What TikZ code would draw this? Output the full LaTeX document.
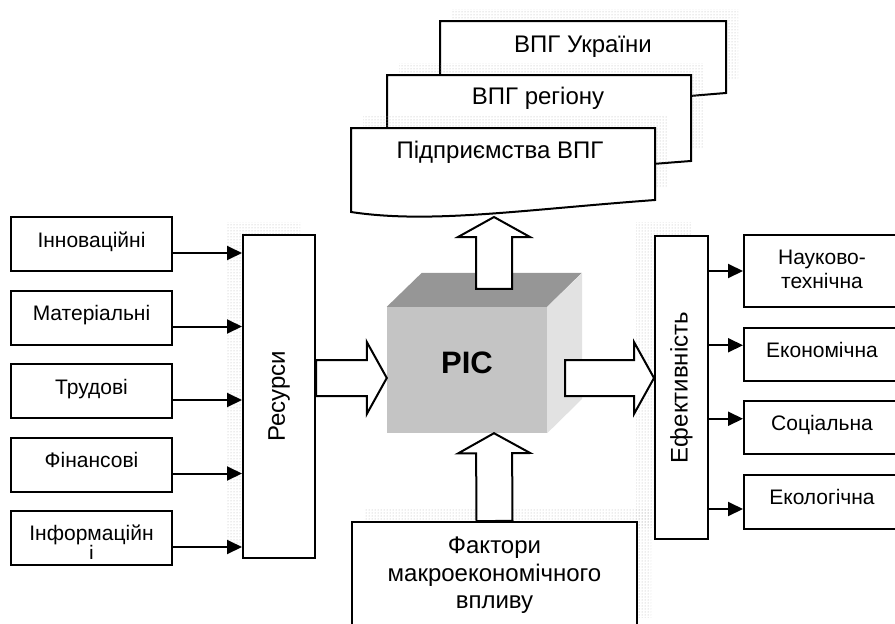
\documentclass[tikz,border=0pt]{standalone}
\usepackage{fontspec}
\setmainfont{Liberation Sans}
\usetikzlibrary{positioning,calc,arrows.meta,patterns,backgrounds}

\definecolor{cubefront}{HTML}{C4C4C4}
\definecolor{cubetop}{HTML}{969696}
\definecolor{cubeside}{HTML}{E2E2E2}

% hollow block arrow from #1 (tail) to #2 (tip)
\newcommand{\blockarrow}[2]{%
  \coordinate (ba) at ($(#2)!20pt!(#1)$);
  \draw[bigarrow] ($(#1)!18pt!90:(#2)$) -- ($(ba)!18pt!-90:(#1)$) -- ($(ba)!36pt!-90:(#1)$)
    -- (#2) -- ($(ba)!36pt!90:(#1)$) -- ($(ba)!18pt!90:(#1)$) -- ($(#1)!18pt!-90:(#2)$) -- cycle;
}

\begin{document}
\begin{tikzpicture}
[
    x=1pt, y=-1pt,
    box/.style={draw, line width=2pt, fill=white, align=center, inner sep=2pt,
        font=\fontsize{21}{24}\selectfont},
    leftbox/.style={box, minimum width=161pt, minimum height=54pt, text depth=9pt},
    rightbox/.style={box, minimum width=156pt, text depth=9pt},
    bigtext/.style={font=\fontsize{24}{27.5}\selectfont, align=center},
    dotshadow/.style={pattern=dots, pattern color=gray!60},
    thinarrow/.style={line width=2pt, -{Triangle[length=15pt, width=14pt]}},
    bigarrow/.style={draw, line width=2pt, fill=white, line join=miter},
]
\useasboundingbox (0,0) rectangle (895,624);
\clip (0,0) rectangle (895,624);

% stacked documents
\foreach \xa/\xb/\yt/\yb in {440/726/21/93, 387/691/75/161, 351/655/128/200} {
    \fill[dotshadow] (\xa+12,\yt-12) rectangle (\xb+12,\yb-14);
    \draw[line width=2pt, fill=white] (\xa,\yt) -- (\xb,\yt) -- (\xb,\yb)
        .. controls ({\xa+0.555*(\xb-\xa)},\yb+10) and ({\xa+0.26*(\xb-\xa)},\yb+24) .. (\xa,\yb+12) -- cycle;
}
\node[bigtext] (ukr) at (583,47) {ВПГ України};
\node[bigtext] (reg) at (538,98) {ВПГ регіону};
\node[bigtext] (ent) at (500,152) {Підприємства ВПГ};

% left column
\node[leftbox] (inn) at (91.5,244) {Інноваційні};
\node[leftbox, below=17.5pt of inn] (mat) {Матеріальні};
\node[leftbox, below=17.5pt of mat] (tru) {Трудові};
\node[leftbox, below=17.5pt of tru] (fin) {Фінансові};
\node[leftbox, below=17.5pt of fin] (inf) {};
\node[font=\fontsize{21}{24}\selectfont, anchor=base, inner sep=0] (inftext) at ($(inf.center)+(0,2)$) {Інформаційн};
\begin{scope}
    \clip (inf.north west) rectangle ($(inf.north east)+(0,48)$);
    \node[font=\fontsize{21}{24}\selectfont, anchor=base, inner sep=0] (infi) at (91.5,560) {і};
\end{scope}

\node[box, font=\fontsize{24}{28}\selectfont, minimum width=72pt, minimum height=323pt]
    (res) at (279,396.5) {\rotatebox{90}{Ресурси}};

% right column
\node[box, font=\fontsize{24}{28}\selectfont, minimum width=53pt, minimum height=303pt]
    (eff) at (681.5,387.5) {\rotatebox{90}{Ефективність}};
\node[rightbox, minimum height=72pt, text depth=3pt] (nt) at (822,271) {Науково-\\технічна};
\node[rightbox, minimum height=53pt, below=18.5pt of nt] (eco) {Економічна};
\node[rightbox, minimum height=53pt, below=18.5pt of eco] (soc) {Соціальна};
\node[rightbox, minimum height=54pt, below=18.5pt of soc] (ekol) {Екологічна};

\node[box, bigtext, minimum width=285pt, minimum height=107pt]
    (fact) at (494.5,575.5) {Фактори\\макроекономічного\\впливу};

% shadows
\begin{scope}[on background layer]
    \fill[dotshadow] ($(res.north west)+(-16,-12)$) rectangle ($(res.south east)+(-16,-12)$);
    \fill[dotshadow] ($(eff.north west)+(-18,-13)$) rectangle ($(eff.south east)+(-18,-13)$);
    \fill[dotshadow] ($(fact.north west)+(13,-13)$) rectangle ($(fact.south east)+(13,-13)$);
\end{scope}

% cube
\node[fill=cubefront, minimum width=160pt, minimum height=126pt, inner sep=0] (cube) at (467,370) {};
\fill[cubetop] (cube.north west) -- ++(35,-34) -- ++(160,0) -- (cube.north east) -- cycle;
\fill[cubeside] (cube.north east) -- ++(35,-34) -- ++(0,126) -- (cube.south east) -- cycle;
\node[font=\fontsize{31}{31}\bfseries\selectfont] (pic) at ([yshift=7pt]cube.center) {PIC};

% arrows
\foreach \n in {inn,mat,tru,fin,inf}
    \draw[thinarrow] ($(\n.east)+(0,9)$) -- ($(\n.east -| res.west)+(0,9)$);
\foreach \n/\dy in {nt/0, eco/-8.75, soc/-8.75, ekol/7.5}
    \draw[thinarrow] ($(\n.west -| eff.east)+(0,\dy)$) -- ($(\n.west)+(0,\dy)$);

\coordinate (la0) at ($(res.east)+(0,-18.5)$);
\coordinate (la1) at ($(cube.west)+(0,8)$);
\coordinate (ra0) at ($(cube.east)+(18,8)$);
\coordinate (ra1) at ($(eff.west)+(0,-9.5)$);
\coordinate (ua0) at ($(cube.north)+(27,-18)$);
\coordinate (ua1) at (494,217);
\coordinate (da1) at ($(cube.south)+(27,0)$);
\blockarrow{la0}{la1}
\blockarrow{ra0}{ra1}
\blockarrow{ua0}{ua1}
\blockarrow{fact.north}{da1}
\end{tikzpicture}
\end{document}
